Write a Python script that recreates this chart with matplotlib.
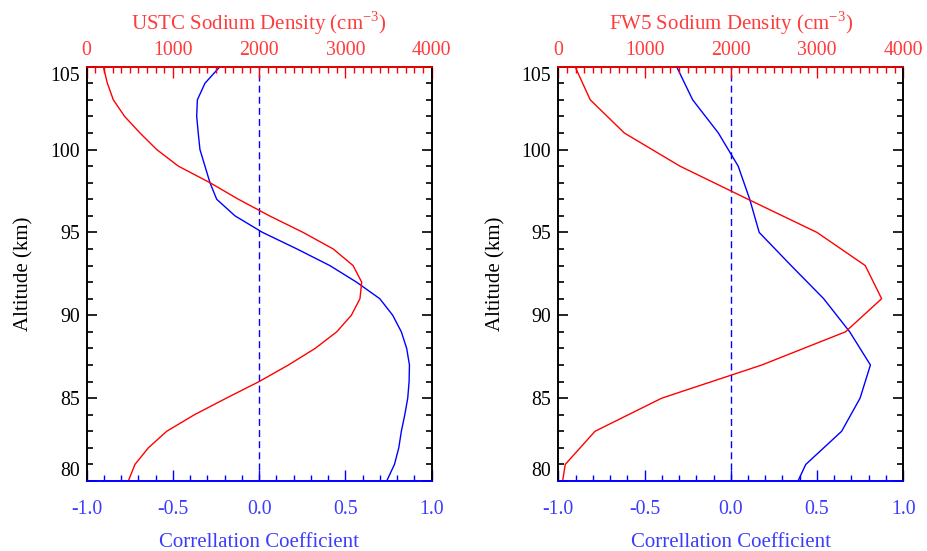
import numpy as np
import matplotlib
matplotlib.use('Agg')
import matplotlib.pyplot as plt
from matplotlib.ticker import MultipleLocator

plt.rcParams['font.family'] = 'Liberation Serif'
plt.rcParams['mathtext.fontset'] = 'custom'
plt.rcParams['mathtext.rm'] = 'Liberation Serif'
plt.rcParams['axes.unicode_minus'] = False

# USTC panel (1 km steps)
alt_ustc = np.arange(80, 106)
dens_ustc = [483, 560, 715, 928, 1250, 1620, 2000, 2340, 2650, 2900, 3070, 3170, 3190,
             3090, 2860, 2510, 2120, 1760, 1430, 1063, 812, 618, 440, 309, 240, 193]
corr_ustc = [0.74, 0.785, 0.81, 0.825, 0.845, 0.862, 0.87, 0.872, 0.856, 0.825, 0.775, 0.70,
             0.565, 0.41, 0.22, 0.02, -0.14, -0.246, -0.285, -0.314, -0.343, -0.353, -0.362,
             -0.358, -0.314, -0.227]

# FW5 panel (2 km steps)
alt_fw5 = [80, 81, 83, 85, 87, 89, 91, 93, 95, 97, 99, 101, 103, 105]
dens_fw5 = [50, 80, 425, 1200, 2360, 3330, 3750, 3560, 3000, 2200, 1410, 765, 370, 194]
corr_fw5 = [0.39, 0.435, 0.643, 0.75, 0.81, 0.69, 0.539, 0.35, 0.165, 0.11, 0.043, -0.072,
            -0.221, -0.314]

alt_ticks = [80, 85, 90, 95, 100, 105]
corr_ticks = [-1, -0.5, 0, 0.5, 1]
corr_labels = ['-1.0', '-0.5', '0.0', '0.5', '1.0']

panels = [('USTC', alt_ustc, dens_ustc, corr_ustc), ('FW5', alt_fw5, dens_fw5, corr_fw5)]
lefts = [0.0935, 0.6023]

red_txt = '#ff3c3c'
blue_txt = '#3c3cff'
fs = 14.3
fl = 15

fig = plt.figure(figsize=(9.27, 5.51), dpi=100)

for (name, alt, dens, corr), left in zip(panels, lefts):
    ax = fig.add_axes([left, 0.127, 0.372, 0.752])
    ax.plot(corr, alt, color='blue', lw=1.0)
    ax.axvline(0, color='blue', lw=1.0, ls=(0, (5, 3)))
    ax.set_xlim(-1, 1)
    ax.set_ylim(80, 105)
    ax.set_xticks(corr_ticks)
    ax.set_xticklabels(corr_labels)
    ax.xaxis.set_minor_locator(MultipleLocator(0.1))
    ax.set_yticks(alt_ticks)
    ax.yaxis.set_minor_locator(MultipleLocator(1))
    ax.tick_params(axis='x', which='both', direction='in', colors='blue',
                   labelcolor=blue_txt, labelsize=fs, pad=14, top=False)
    ax.tick_params(axis='x', which='major', length=8, width=1)
    ax.tick_params(axis='x', which='minor', length=4, width=1)
    ax.tick_params(axis='y', which='both', direction='in', left=True, right=True,
                   labelsize=fs, pad=5, width=1.2)
    ax.tick_params(axis='y', which='major', length=7)
    ax.tick_params(axis='y', which='minor', length=4)
    ax.set_xlabel('Correllation Coefficient', color=blue_txt, fontsize=fl, labelpad=10)
    ax.set_ylabel('Altitude (km)', fontsize=fl, labelpad=12)
    ax.spines['bottom'].set_color('blue')
    for s in ax.spines.values():
        s.set_linewidth(1.2)

    ax2 = ax.twiny()
    ax2.plot(dens, alt, color='red', lw=1.0)
    ax2.set_xlim(0, 4000)
    ax2.xaxis.set_major_locator(MultipleLocator(1000))
    ax2.xaxis.set_minor_locator(MultipleLocator(100))
    ax2.tick_params(axis='x', which='both', direction='in', colors='red',
                    labelcolor=red_txt, labelsize=fs, pad=5)
    ax2.tick_params(axis='x', which='major', length=8, width=1)
    ax2.tick_params(axis='x', which='minor', length=4, width=1)
    ax2.set_xlabel(name + r' Sodium Density (cm$^{\mathrm{-3}}$)', color=red_txt,
                   fontsize=fl, labelpad=8)
    ax2.spines['top'].set_color('red')
    ax2.spines['bottom'].set_color('blue')
    for s in ax2.spines.values():
        s.set_linewidth(1.2)

    # nudge the end labels inward like the original
    ticks = ax.yaxis.get_major_ticks()
    ticks[0].label1.set_va('bottom')
    ticks[-1].label1.set_va('top')

fig.savefig('out.png', dpi=100)
